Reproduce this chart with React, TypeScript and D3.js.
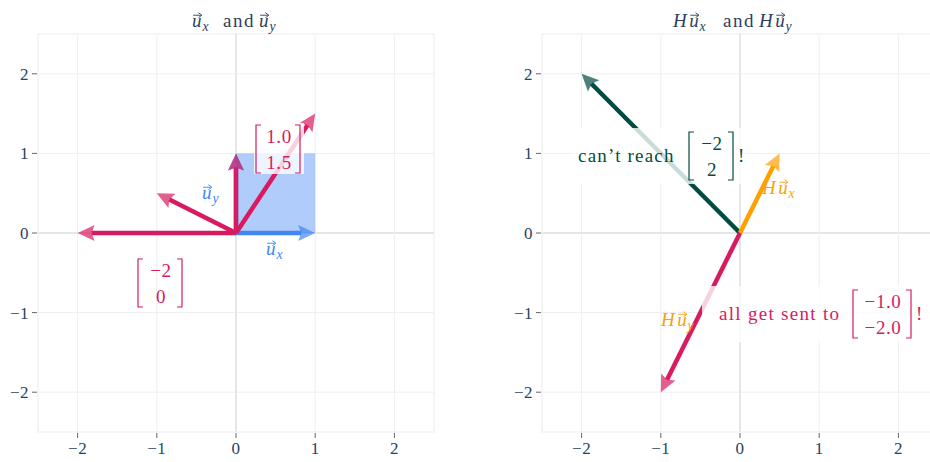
import React from 'react'
import * as d3 from 'd3'

// tick values shared by both panels
const tickValues = [-2, -1, 0, 1, 2]
const axisDomain = [-2.5, 2.5]

// left panel: basis vectors and the vectors that all land on H u_y
const basisX = [1, 0]
const basisY = [0, 1]
const preimages = [[-2, 0], [-1, 0.5], [0, 1], [1, 1.5]]

// right panel: images under H and the unreachable target
const hUx = [0.5, 1]
const hUy = [-1, -2]
const unreachable = [-2, 2]

const BLUE = '#4285F4'
const CRIMSON = '#D81B60'
const ORANGE = '#FFA000'
const GREEN = '#004D40'
const INK = '#2a3f5f'
const SERIF = 'Liberation Serif'

const W = 930
const H = 462

const y = d3.scaleLinear().domain(axisDomain).range([432, 34])
const xLeft = d3.scaleLinear().domain(axisDomain).range([38, 434])
const xRight = d3.scaleLinear().domain(axisDomain).range([542, 938])

type Scale = d3.ScaleLinear<number, number>

const font = (size: number, italic = false, spacing = 0): React.CSSProperties => ({
  fontFamily: SERIF,
  fontSize: `${size}px`,
  fontStyle: italic ? 'italic' : 'normal',
  letterSpacing: `${spacing}px`,
})

function Arrow({ sx, v, color }: { sx: Scale; v: number[]; color: string }) {
  const x0 = sx(0), y0 = y(0), x1 = sx(v[0]), y1 = y(v[1])
  const dx = x1 - x0, dy = y1 - y0
  const len = Math.hypot(dx, dy)
  const ux = dx / len, uy = dy / len
  const hl = 17, hw = 8, notch = 3
  const bx = x1 - ux * hl, by = y1 - uy * hl
  const nx = bx + ux * notch, ny = by + uy * notch
  const pts = [
    [x1, y1],
    [bx - uy * hw, by + ux * hw],
    [nx, ny],
    [bx + uy * hw, by - ux * hw],
  ]
  return (
    <g>
      <line x1={x0} y1={y0} x2={nx} y2={ny} stroke={color} strokeWidth={4.5} />
      <polygon points={pts.map(p => p.join(',')).join(' ')} fill={color} fillOpacity={0.7} />
    </g>
  )
}

function Vec({ x, yb, pre, sub, color, size }: { x: number; yb: number; pre?: string; sub: string; color: string; size: number }) {
  const ux = x + (pre ? size * 0.85 : 0)
  const ay = yb - size * 0.62
  const ax0 = ux + size * 0.06, ax1 = ux + size * 0.52
  return (
    <g>
      <text x={x} y={yb} fill={color} style={font(size, true)}>
        {pre ? <tspan>{pre}</tspan> : null}
        <tspan x={ux}>u</tspan>
        <tspan x={ux + size * 0.55} dy={size * 0.22} style={font(size * 0.72, true)}>{sub}</tspan>
      </text>
      <line x1={ax0} y1={ay} x2={ax1 - 1} y2={ay} stroke={color} strokeWidth={0.9} />
      <path d={`M${ax1 - 3.5},${ay - 2.5} L${ax1},${ay} L${ax1 - 3.5},${ay + 2.5}`} fill="none" stroke={color} strokeWidth={0.9} />
    </g>
  )
}

function Matrix({ cx, cy, rows, w, color, size }: { cx: number; cy: number; rows: string[]; w: number; color: string; size: number }) {
  const h = 48
  const top = cy - h / 2, bot = cy + h / 2
  const l = cx - w / 2, r = cx + w / 2
  return (
    <g>
      <path d={`M${l + 5},${top} H${l} V${bot} H${l + 5}`} fill="none" stroke={color} strokeWidth={1.2} />
      <path d={`M${r - 5},${top} H${r} V${bot} H${r - 5}`} fill="none" stroke={color} strokeWidth={1.2} />
      {rows.map((t, i) => (
        <text key={i} x={cx + 1} y={cy - 6 + i * 26} textAnchor="middle" fill={color} style={font(size, false, 0.6)}>{t}</text>
      ))}
    </g>
  )
}

function Panel({ sx }: { sx: Scale }) {
  const [x0, x1] = sx.range()
  const [y0, y1] = [y(2.5), y(-2.5)]
  const lab = (t: number) => String(t).replace('-', '\u2212')
  return (
    <g>
      {tickValues.map(t => (
        <g key={'g' + t}>
          <line x1={sx(t)} x2={sx(t)} y1={y0} y2={y1} stroke={t === 0 ? '#e6e6e6' : '#efefef'} strokeWidth={t === 0 ? 2 : 1} />
          <line x1={x0} x2={x1} y1={y(t)} y2={y(t)} stroke={t === 0 ? '#e6e6e6' : '#efefef'} strokeWidth={t === 0 ? 2 : 1} />
        </g>
      ))}
      <rect x={x0} y={y0} width={x1 - x0} height={y1 - y0} fill="none" stroke="#ececec" />
      {tickValues.map(t => (
        <g key={'t' + t}>
          <line x1={sx(t)} x2={sx(t)} y1={y1 + 1} y2={y1 + 6} stroke="#666" />
          <text x={sx(t)} y={y1 + 22} textAnchor="middle" fill={INK} style={font(17, false, 0.5)}>{lab(t)}</text>
          <line x1={x0 - 6} x2={x0 - 1} y1={y(t)} y2={y(t)} stroke="#666" />
          <text x={x0 - 9} y={y(t) + 6} textAnchor="end" fill={INK} style={font(17, false, 0.5)}>{lab(t)}</text>
        </g>
      ))}
    </g>
  )
}

export default function App() {
  return (
    <div style={{ position: 'absolute', left: 0, top: 0, width: W, height: H, overflow: 'hidden', background: '#fff' }}>
      <svg width={W} height={H} style={{ display: 'block' }}>
        <Panel sx={xLeft} />
        <Panel sx={xRight} />

        {/* titles */}
        <Vec x={192} yb={27} sub="x" color={INK} size={19} />
        <text x={223} y={27} fill={INK} style={font(19, false, 1.5)}>and</text>
        <Vec x={259} yb={27} sub="y" color={INK} size={19} />
        <Vec x={673} yb={27} pre="H" sub="x" color={INK} size={19} />
        <text x={723} y={27} fill={INK} style={font(19, false, 1.5)}>and</text>
        <Vec x={759} yb={27} pre="H" sub="y" color={INK} size={19} />

        {/* left panel */}
        <rect x={xLeft(0)} y={y(1)} width={xLeft(1) - xLeft(0)} height={y(0) - y(1)} fill={BLUE} fillOpacity={0.42} />
        <Arrow sx={xLeft} v={basisX} color={BLUE} />
        <Arrow sx={xLeft} v={basisY} color={BLUE} />
        {preimages.map((p, i) => <Arrow key={i} sx={xLeft} v={p} color={CRIMSON} />)}
        <Vec x={202} yb={199} sub="y" color={BLUE} size={19} />
        <Vec x={266} yb={255} sub="x" color={BLUE} size={19} />
        <rect x={254} y={123} width={50} height={51} fill="#fff" fillOpacity={0.8} />
        <Matrix cx={278} cy={149} rows={['1.0', '1.5']} w={44} color={CRIMSON} size={19} />
        <Matrix cx={160} cy={283} rows={['\u22122', '0']} w={44} color={CRIMSON} size={19} />

        {/* right panel */}
        <Arrow sx={xRight} v={unreachable} color={GREEN} />
        <Arrow sx={xRight} v={hUx} color={ORANGE} />
        <Arrow sx={xRight} v={hUy} color={CRIMSON} />
        <rect x={573} y={128} width={174} height={56} fill="#fff" fillOpacity={0.8} />
        <text x={578} y={162} fill={GREEN} style={font(19, false, 1.2)}>can’t reach</text>
        <Matrix cx={711} cy={156} rows={['\u22122', '2']} w={44} color={GREEN} size={19} />
        <text x={738} y={162} fill={GREEN} style={font(19)}>!</text>
        <Vec x={762} yb={194} pre="H" sub="x" color={ORANGE} size={19} />
        <rect x={702} y={286} width={230} height={56} fill="#fff" fillOpacity={0.8} />
        <Vec x={661} yb={326} pre="H" sub="y" color={ORANGE} size={19} />
        <text x={719} y={320} fill={CRIMSON} style={font(19, false, 1.3)}>all get sent to</text>
        <Matrix cx={882} cy={314} rows={['\u22121.0', '\u22122.0']} w={58} color={CRIMSON} size={19} />
        <text x={916} y={320} fill={CRIMSON} style={font(19)}>!</text>
      </svg>
    </div>
  )
}
